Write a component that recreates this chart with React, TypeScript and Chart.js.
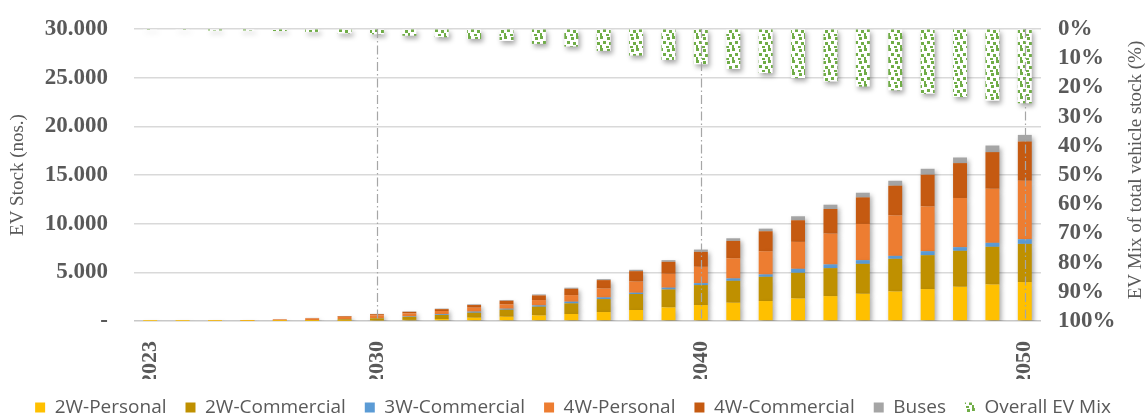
import React, { useEffect, useRef } from "react";
import { Chart, registerables } from "chart.js";

Chart.register(...registerables);

// Projection years on the category axis
const YEARS = [
  "2023", "2024", "2025", "2026", "2027", "2028", "2029", "2030", "2031", "2032",
  "2033", "2034", "2035", "2036", "2037", "2038", "2039", "2040", "2041", "2042",
  "2043", "2044", "2045", "2046", "2047", "2048", "2049", "2050",
];

// Only these years carry an axis label and a dash-dot marker line
const MILESTONE_YEARS = ["2023", "2030", "2040", "2050"];
const MARKER_YEARS = ["2030", "2040", "2050"];

// EV stock by segment (nos.)
const TWO_W_PERSONAL = [2, 4, 5, 8, 5, 10, 30, 60, 110, 200, 340, 440, 580, 720, 920, 1130, 1400, 1640, 1880, 2050, 2320, 2560, 2800, 3040, 3280, 3520, 3760, 4000];
const TWO_W_COMMERCIAL = [3, 6, 10, 20, 30, 70, 150, 220, 320, 420, 510, 720, 890, 1090, 1330, 1640, 1840, 2050, 2250, 2490, 2630, 2870, 3070, 3350, 3480, 3690, 3860, 3920];
const THREE_W_COMMERCIAL = [0, 1, 1, 2, 5, 10, 15, 30, 50, 80, 110, 100, 130, 170, 170, 130, 180, 200, 240, 240, 410, 380, 380, 300, 410, 370, 410, 480];
const FOUR_W_PERSONAL = [5, 10, 25, 60, 120, 170, 230, 280, 300, 330, 410, 450, 550, 680, 930, 1160, 1430, 1680, 2080, 2390, 2770, 3170, 3720, 4170, 4610, 5060, 5560, 6010];
const FOUR_W_COMMERCIAL = [1, 2, 5, 10, 20, 40, 70, 110, 160, 190, 270, 370, 480, 650, 850, 1060, 1230, 1530, 1780, 2050, 2220, 2530, 2730, 3040, 3250, 3580, 3760, 4030];
const BUSES = [0, 1, 2, 3, 10, 15, 20, 30, 40, 50, 70, 70, 100, 110, 100, 140, 170, 240, 270, 270, 410, 440, 480, 510, 610, 580, 680, 680];

// Share of EVs in the total vehicle stock (%)
const OVERALL_EV_MIX = [0.3, 0.3, 0.5, 0.5, 0.7, 1.0, 1.5, 1.8, 2.3, 2.8, 3.4, 4.1, 5.1, 6.0, 7.5, 9.1, 10.6, 12.1, 13.7, 15.1, 16.8, 18.0, 19.7, 21.0, 22.2, 23.3, 24.6, 25.4];

const SERIF = "'Liberation Serif', 'Times New Roman', serif";
const SANS = "'Open Sans', 'Noto Sans', sans-serif";
const AXIS_GREY = "#595959";

function confettiPattern(ctx: CanvasRenderingContext2D): CanvasPattern | string {
  const tile = document.createElement("canvas");
  tile.width = 12;
  tile.height = 12;
  const g = tile.getContext("2d");
  if (!g) return "#70AD47";
  g.fillStyle = "#ffffff";
  g.fillRect(0, 0, 12, 12);
  g.fillStyle = "#70AD47";
  const dots = [
    [0, 0, 3, 3], [7, 1, 3, 3], [3, 5, 3, 3], [9, 6, 3, 3],
    [0, 9, 2, 3], [6, 10, 3, 2],
  ];
  for (const [x, y, w, h] of dots) g.fillRect(x, y, w, h);
  return ctx.createPattern(tile, "repeat") || "#70AD47";
}

// Soft drop shadow under every bar
const barShadow = {
  id: "barShadow",
  beforeDatasetDraw(chart: any) {
    const c = chart.ctx;
    c.save();
    c.shadowColor = "rgba(0,0,0,0.35)";
    c.shadowBlur = 5;
    c.shadowOffsetX = 2;
    c.shadowOffsetY = 3;
  },
  afterDatasetDraw(chart: any) {
    chart.ctx.restore();
  },
};

// Dash-dot markers at the milestone years
const markerLines = {
  id: "markerLines",
  afterDatasetsDraw(chart: any) {
    const { ctx, chartArea, scales } = chart;
    ctx.save();
    ctx.strokeStyle = "#A6A6A6";
    ctx.lineWidth = 1.2;
    ctx.setLineDash([9, 3, 1.5, 3]);
    for (const y of MARKER_YEARS) {
      const x = Math.round(scales.x.getPixelForValue(YEARS.indexOf(y))) + 0.5;
      ctx.beginPath();
      ctx.moveTo(x, chartArea.top);
      ctx.lineTo(x, chartArea.bottom);
      ctx.stroke();
    }
    ctx.restore();
  },
};

// Vertical axis titles, both reading bottom-to-top
const axisTitles = {
  id: "axisTitles",
  afterDraw(chart: any) {
    const { ctx, chartArea } = chart;
    const cy = (chartArea.top + chartArea.bottom) / 2;
    ctx.save();
    ctx.fillStyle = AXIS_GREY;
    ctx.font = `19px ${SERIF}`;
    ctx.textAlign = "center";
    ctx.textBaseline = "middle";
    const draw = (text: string, x: number, y: number) => {
      ctx.save();
      ctx.translate(x, y);
      ctx.rotate(-Math.PI / 2);
      ctx.fillText(text, 0, 0);
      ctx.restore();
    };
    draw("EV Stock (nos.)", 18, cy);
    draw("EV Mix of total vehicle stock (%)", chart.width - 10, cy - 5);
    ctx.restore();
  },
};

export default function App() {
  const canvasRef = useRef<HTMLCanvasElement | null>(null);

  useEffect(() => {
    document.body.style.margin = "0";
    const canvas = canvasRef.current;
    if (!canvas) return;
    const ctx = canvas.getContext("2d");
    if (!ctx) return;

    const bar = (label: string, data: number[], color: any, extra: any = {}) => ({
      type: "bar" as const,
      label,
      data,
      backgroundColor: color,
      borderWidth: 0,
      barPercentage: 0.43,
      categoryPercentage: 1,
      yAxisID: "y",
      ...extra,
    });

    const chart = new Chart(ctx, {
      type: "bar",
      data: {
        labels: YEARS,
        datasets: [
          bar("2W-Personal", TWO_W_PERSONAL, "#FFC000"),
          bar("2W-Commercial", TWO_W_COMMERCIAL, "#BF9000"),
          bar("3W-Commercial", THREE_W_COMMERCIAL, "#5B9BD5"),
          bar("4W-Personal", FOUR_W_PERSONAL, "#ED7D31"),
          bar("4W-Commercial", FOUR_W_COMMERCIAL, "#C55A11"),
          bar("Buses", BUSES, "#A5A5A5"),
          bar("Overall EV Mix", OVERALL_EV_MIX, confettiPattern(ctx), { yAxisID: "y1" }),
        ],
      },
      options: {
        animation: false,
        responsive: true,
        maintainAspectRatio: false,
        layout: { padding: { top: 29, bottom: -7, left: 0, right: 0 } },
        plugins: {
          tooltip: { enabled: false },
          legend: {
            position: "bottom",
            labels: {
              color: AXIS_GREY,
              font: { family: SANS, size: 19 },
              boxWidth: 10,
              boxHeight: 10,
              padding: 19,
            },
          },
        },
        scales: {
          x: {
            stacked: true,
            grid: { display: false },
            border: { display: false },
            afterFit: (s: any) => { s.height = 58; },
            ticks: {
              autoSkip: false,
              minRotation: 90,
              maxRotation: 90,
              padding: 12,
              color: AXIS_GREY,
              font: { family: SERIF, size: 22, weight: "bold" },
              callback: (_v: any, i: number) => (MILESTONE_YEARS.includes(YEARS[i]) ? YEARS[i] : ""),
            },
          },
          y: {
            position: "left",
            stacked: true,
            min: 0,
            max: 30000,
            afterFit: (s: any) => { s.width = 134; },
            border: { display: false },
            grid: {
              drawTicks: true,
              tickLength: 26,
              tickColor: "rgba(0,0,0,0)",
              lineWidth: 1.5,
              color: (c: any) => (c.tick && c.tick.value === 0 ? "#C8C8C8" : "#D9D9D9"),
            },
            ticks: {
              autoSkip: false,
              stepSize: 5000,
              padding: 0,
              color: AXIS_GREY,
              font: { family: SERIF, size: 23, weight: "bold" },
              callback: (v: any) => (Number(v) === 0 ? "-" : Number(v).toLocaleString("de-DE")),
            },
          },
          y1: {
            position: "right",
            reverse: true,
            min: 0,
            max: 100,
            afterFit: (s: any) => { s.width = 105; },
            border: { display: false },
            grid: {
              display: true,
              drawOnChartArea: false,
              drawTicks: true,
              tickLength: 17,
              tickColor: "rgba(0,0,0,0)",
              color: "rgba(0,0,0,0)",
            },
            ticks: {
              autoSkip: false,
              stepSize: 10,
              padding: 0,
              color: AXIS_GREY,
              font: { family: SERIF, size: 23, weight: "bold" },
              callback: (v: any) => `${v}%`,
            },
          },
        },
      },
      plugins: [barShadow, markerLines, axisTitles],
    } as any);

    return () => chart.destroy();
  }, []);

  return (
    <div style={{ position: "relative", width: 1146, height: 420 }}>
      <canvas ref={canvasRef} />
    </div>
  );
}
